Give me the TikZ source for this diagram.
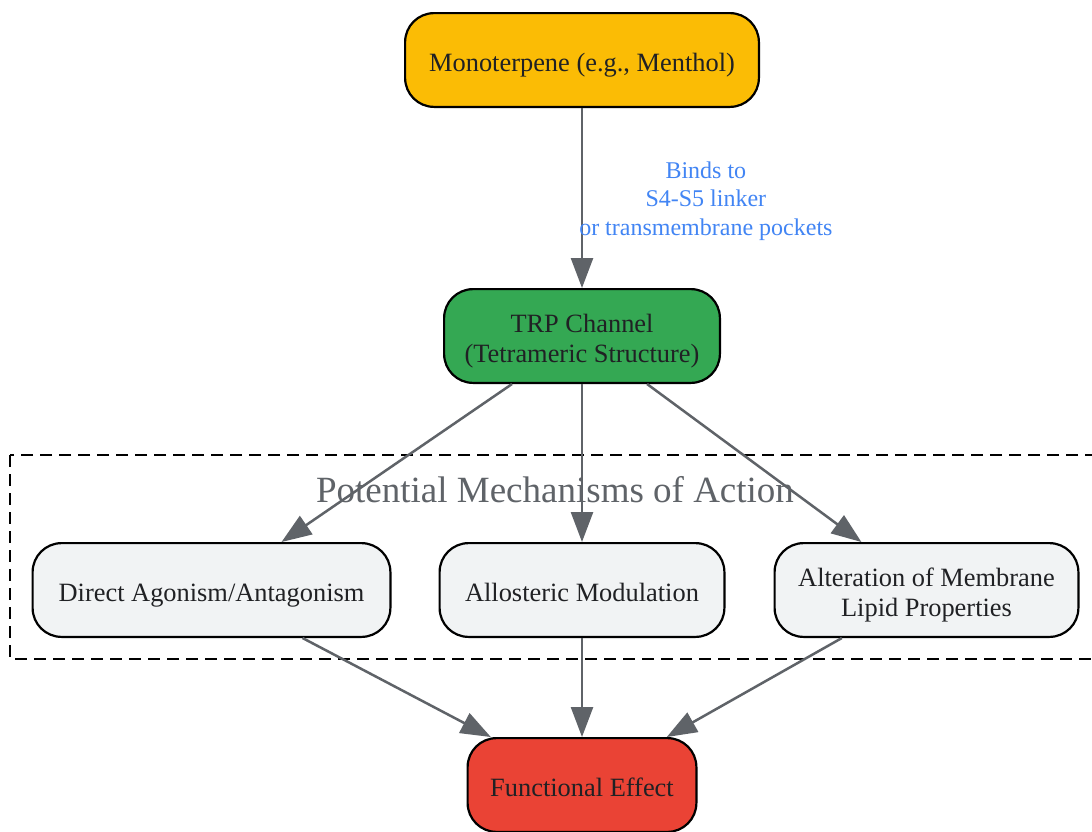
\documentclass[tikz,border=0pt]{standalone}
\usepackage{fontspec}
\setmainfont{Liberation Serif}
\usetikzlibrary{arrows.meta,positioning}
\definecolor{edgegrey}{HTML}{5F6368}
\definecolor{textdark}{HTML}{202124}
\definecolor{bindblue}{HTML}{4285F4}
\definecolor{yellowbox}{HTML}{FBBC05}
\definecolor{greenbox}{HTML}{34A853}
\definecolor{greybox}{HTML}{F1F3F4}
\definecolor{redbox}{HTML}{EA4335}
\tikzset{
    >={Triangle[length=30pt,width=22pt]},
    x=1pt, y=-1pt,
    font=\fontsize{26.4}{30}\selectfont,
    base box/.style={draw,line width=2.2pt,rounded corners=29pt,align=center,text=textdark,minimum height=93.8pt,inner sep=0pt,text height=22pt,text depth=0pt},
    two lines/.style={text height=52pt,text depth=0pt},
    start box/.style={base box,fill=yellowbox},
    channel box/.style={base box,fill=greenbox},
    mechanism box/.style={base box,fill=greybox},
    effect box/.style={base box,fill=redbox},
    link/.style={->,draw=edgegrey,line width=2.5pt},
    bind label/.style={right,xshift=-4pt,yshift=-3pt,inner sep=0pt,align=center,text=bindblue,font=\fontsize{24}{28.5}\selectfont},
    group label/.style={text=edgegrey,inner sep=0pt,font=\fontsize{37}{40}\selectfont},
    group frame/.style={draw,dashed,line width=2.5pt,dash pattern=on 12pt off 7pt}
}
\begin{document}
\begin{tikzpicture}
    \fill[white] (0,0) rectangle (1092,831);
    \useasboundingbox (0,0) rectangle (1092,831);
    % mechanisms cluster
    \draw[group frame] (10,455) rectangle (1100,659);
    \node[group label] (grouplabel) at (555,490) {Potential Mechanisms of Action};
    \node[start box, minimum width=353.8pt] (mono) at (582,60) {Monoterpene (e.g., Menthol)};
    \node[channel box, two lines, minimum width=275.8pt] (trp) [below = 180pt of mono] {TRP Channel\\(Tetrameric Structure)};
    \node[mechanism box, minimum width=284.8pt] (allo) [below = 158pt of trp] {Allosteric Modulation};
    \node[mechanism box, minimum width=357.8pt] (direct) [left = 47pt of allo] {Direct Agonism/Antagonism};
    \node[mechanism box, two lines, minimum width=303.8pt] (alter) [right = 48pt of allo] {Alteration of Membrane\\Lipid Properties};
    \node[effect box, minimum width=228.8pt] (effect) [below = 99pt of allo] {Functional Effect};
    \path
        (mono) edge [link] node [bind label] {Binds to\\S4-S5 linker\\or transmembrane pockets} (trp)
        (trp) edge [link] (direct)
        (trp) edge [link] (allo)
        (trp) edge [link] (alter)
        (direct) edge [link] (effect)
        (allo) edge [link] (effect)
        (alter) edge [link] (effect)
        ;
\end{tikzpicture}
\end{document}
